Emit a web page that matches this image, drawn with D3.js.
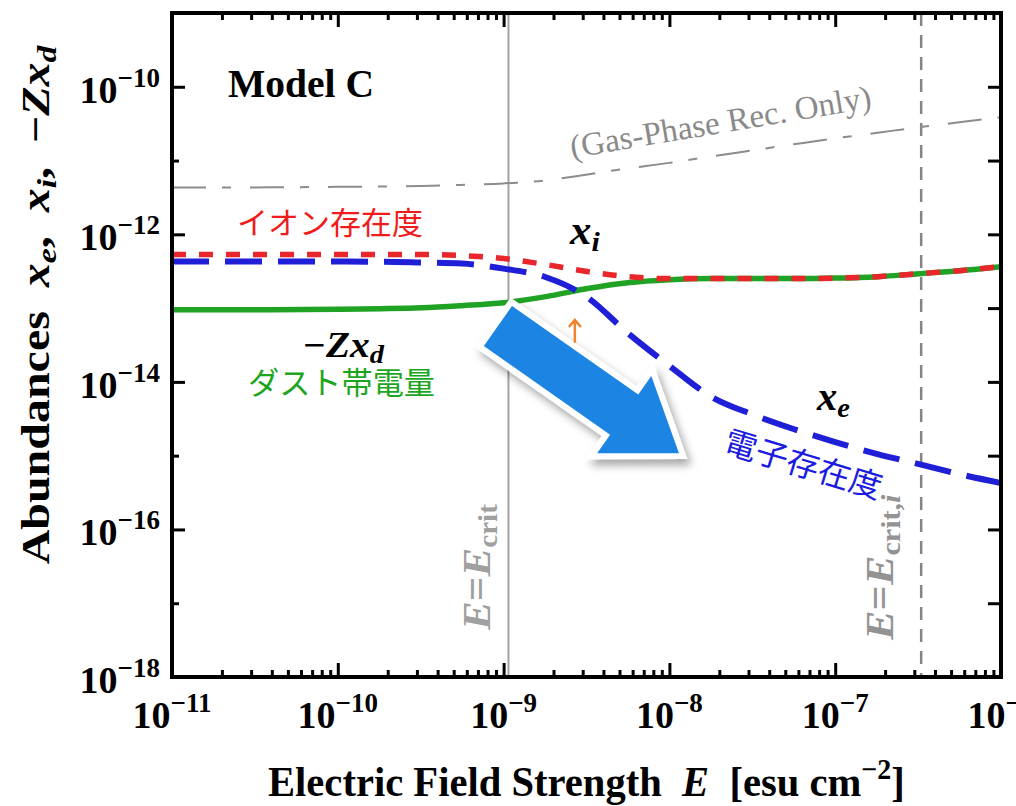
<!DOCTYPE html>
<html>
<head>
<meta charset="utf-8">
<script src="https://cdn.jsdelivr.net/npm/d3@7"></script>
<style>
  body { margin: 0; background: #fff; }
  svg { display: block; }
  text { white-space: pre; }
</style>
</head>
<body>
<div id="chart"></div>
<script>
// electric field strength (esu cm^-2), shared x values
const fieldE = [1.0e-11, 3.2e-11, 1.0e-10, 1.8e-10, 3.2e-10, 5.6e-10, 1.0e-9, 1.8e-9, 3.2e-9, 5.6e-9,
                1.0e-8, 1.8e-8, 3.2e-8, 5.6e-8, 1.0e-7, 1.8e-7, 3.2e-7, 5.6e-7, 1.0e-6];
// electron abundance x_e
const xe = [4.27e-13, 4.27e-13, 4.27e-13, 4.25e-13, 4.14e-13, 4.01e-13, 3.43e-13, 2.62e-13, 1.40e-13, 4.60e-14,
            1.65e-14, 6.25e-15, 3.60e-15, 2.30e-15, 1.53e-15, 1.05e-15, 7.69e-16, 5.62e-16, 4.25e-16];
// ion abundance x_i
const xi = [5.32e-13, 5.32e-13, 5.32e-13, 5.32e-13, 5.32e-13, 5.15e-13, 4.69e-13, 3.89e-13, 3.13e-13, 2.67e-13,
            2.51e-13, 2.51e-13, 2.51e-13, 2.51e-13, 2.55e-13, 2.67e-13, 2.93e-13, 3.22e-13, 3.65e-13];
// dust charge -Z x_d
const zxd = [9.50e-14, 9.50e-14, 9.66e-14, 9.82e-14, 1.01e-13, 1.08e-13, 1.18e-13, 1.43e-13, 1.84e-13, 2.21e-13,
             2.43e-13, 2.51e-13, 2.51e-13, 2.51e-13, 2.55e-13, 2.67e-13, 2.93e-13, 3.22e-13, 3.65e-13];
// gas-phase recombination only
const gasOnly = [4.33e-12, 4.33e-12, 4.40e-12, 4.45e-12, 4.53e-12, 4.68e-12, 4.90e-12, 5.38e-12, 6.49e-12, 7.83e-12,
                 9.30e-12, 1.14e-11, 1.38e-11, 1.66e-11, 2.00e-11, 2.38e-11, 2.83e-11, 3.30e-11, 3.87e-11];

const xDecades = [1e-11, 1e-10, 1e-9, 1e-8, 1e-7, 1e-6];
const yDecades = [1e-18, 1e-17, 1e-16, 1e-15, 1e-14, 1e-13, 1e-12, 1e-11, 1e-10, 1e-9];
const yLabelled = [1e-18, 1e-16, 1e-14, 1e-12, 1e-10];
const eCrit = 1.07e-9, eCritI = 3.3e-7;
// big arrow (tail centre -> tip) and small orange arrow, in data units
const bigArrow = [[8.93e-10, 6.04e-14], [1.21e-8, 9.9e-16]];
const smallArrow = [[2.69e-9, 3.4e-14], [2.69e-9, 6.9e-14]];

const W = 1016, H = 806;
const margin = { top: 13, right: 15, bottom: 129, left: 172 },
    width = W - margin.left - margin.right,
    height = H - margin.top - margin.bottom;

const serif = "'Liberation Serif', 'Times New Roman', serif";
const cjk = "'Noto Sans CJK JP', 'Noto Sans CJK SC', sans-serif";

const svg = d3.select("#chart").append("svg")
    .attr("width", W).attr("height", H);

const defs = svg.append("defs");
defs.append("clipPath").attr("id", "plotclip")
    .append("rect").attr("width", width).attr("height", height);
const sh = defs.append("filter").attr("id", "shadow")
    .attr("x", "-20%").attr("y", "-20%").attr("width", "150%").attr("height", "150%");
sh.append("feDropShadow").attr("dx", 4).attr("dy", 6).attr("stdDeviation", 4)
    .attr("flood-color", "#000").attr("flood-opacity", 0.35);

const g = svg.append("g").attr("transform", `translate(${margin.left},${margin.top})`);

const x = d3.scaleLog().domain([1e-11, 1e-6]).range([0, width]);
const y = d3.scaleLog().domain([1e-18, 1e-9]).range([height, 0]);

// minor x ticks 2..9 in each decade
const xMinor = [];
xDecades.slice(0, -1).forEach(d => { for (let k = 2; k <= 9; k++) xMinor.push(d * k); });

function tickAxis(axis, vals, size, transform) {
  const a = g.append("g").attr("transform", transform || null)
      .call(axis.tickValues(vals).tickSize(size).tickFormat(""));
  a.select(".domain").remove();
  a.selectAll("line").attr("stroke", "#000").attr("stroke-width", 3);
}
tickAxis(d3.axisBottom(x), xMinor, -7, `translate(0,${height})`);
tickAxis(d3.axisBottom(x), xDecades, -14, `translate(0,${height})`);
tickAxis(d3.axisTop(x), xMinor, -7);
tickAxis(d3.axisTop(x), xDecades, -14);
tickAxis(d3.axisLeft(y), yDecades.filter(d => !yLabelled.includes(d)), -7);
tickAxis(d3.axisLeft(y), yLabelled, -13);
tickAxis(d3.axisRight(y), yDecades, -13, `translate(${width},0)`);

// tick labels 10^n
function powLabel(sel) {
  sel.text("10").append("tspan").attr("dy", -16).attr("font-size", 27)
    .text(d => "\u2212" + Math.abs(Math.round(Math.log10(d))));
}
g.append("g").selectAll("text").data(xDecades).join("text")
    .attr("x", d => x(d)).attr("y", height + 51)
    .attr("text-anchor", "middle").attr("font-family", serif).attr("font-weight", "bold")
    .attr("font-size", 38).call(powLabel);
g.append("g").selectAll("text").data(yLabelled).join("text")
    .attr("x", -12).attr("y", d => y(d) + 16)
    .attr("text-anchor", "end").attr("font-family", serif).attr("font-weight", "bold")
    .attr("font-size", 38).call(powLabel);

// critical field lines
g.append("line").attr("x1", x(eCrit)).attr("x2", x(eCrit)).attr("y1", 0).attr("y2", height)
    .attr("stroke", "#a3a3a3").attr("stroke-width", 2);
g.append("line").attr("x1", x(eCritI)).attr("x2", x(eCritI)).attr("y1", 0).attr("y2", height)
    .attr("stroke", "#858585").attr("stroke-width", 2.5).attr("stroke-dasharray", "13,9");

// curves
const plot = g.append("g").attr("clip-path", "url(#plotclip)");
function curve(vals, color, w, dash) {
  const line = d3.line().x((d, i) => x(fieldE[i])).y(d => y(d)).curve(d3.curveMonotoneX);
  plot.append("path").datum(vals).attr("d", line)
      .attr("fill", "none").attr("stroke", color).attr("stroke-width", w)
      .attr("stroke-dasharray", dash || null);
}
curve(gasOnly, "#8c8c8c", 2, "34,16,9,19");
curve(zxd, "#20a324", 5.5);
curve(xi, "#e8262b", 5.5, "14,13");
curve(xe, "#1f1fd8", 6, "37,16");

// frame
g.append("rect").attr("width", width).attr("height", height)
    .attr("fill", "none").attr("stroke", "#000").attr("stroke-width", 4);

// text helper: content built by fn, squeezed to target width
function label(px, py, angle, target, anchor, fn) {
  const holder = g.append("g").attr("transform", `translate(${px},${py}) rotate(${angle})`);
  const t = holder.append("text").attr("text-anchor", anchor);
  fn(t);
  const w = t.node().getBBox().width;
  if (target) t.attr("transform", `scale(${target / w},1)`);
  return t;
}

const L = v => v - margin.left, T = v => v - margin.top;

label(L(228), T(97), 0, 146, "start", t => t.attr("font-family", serif).attr("font-weight", "bold")
    .attr("font-size", 40).text("Model C"));

label(L(572), T(158), -9.5, 305, "start", t => t.attr("font-family", serif).attr("fill", "#8a8a8a")
    .attr("font-size", 33).text("(Gas-Phase Rec. Only)"));

label(L(570), T(244), 0, 31, "start", t => {
  t.attr("font-family", serif).attr("font-weight", "bold").attr("font-size", 40);
  t.append("tspan").attr("font-style", "italic").text("x");
  t.append("tspan").attr("font-style", "italic").attr("font-size", 28).attr("dy", 7).text("i");
});
label(L(817), T(410), 0, 34, "start", t => {
  t.attr("font-family", serif).attr("font-weight", "bold").attr("font-size", 40);
  t.append("tspan").attr("font-style", "italic").text("x");
  t.append("tspan").attr("font-style", "italic").attr("font-size", 28).attr("dy", 7).text("e");
});
label(L(302), T(357), 0, 83, "start", t => {
  t.attr("font-family", serif).attr("font-weight", "bold").attr("font-size", 36);
  t.append("tspan").attr("font-style", "italic").text("\u2212Zx");
  t.append("tspan").attr("font-style", "italic").attr("font-size", 26).attr("dy", 6).text("d");
});

label(L(490), T(630), -90, 127, "start", t => {
  t.attr("font-family", serif).attr("font-weight", "bold").attr("font-size", 40).attr("fill", "#a0a0a0");
  t.append("tspan").attr("font-style", "italic").text("E");
  t.append("tspan").text("=");
  t.append("tspan").attr("font-style", "italic").text("E");
  t.append("tspan").attr("font-size", 27).attr("dy", 7).text("crit");
});
label(L(893), T(640), -90, 147, "start", t => {
  t.attr("font-family", serif).attr("font-weight", "bold").attr("font-size", 40).attr("fill", "#939393");
  t.append("tspan").attr("font-style", "italic").text("E");
  t.append("tspan").text("=");
  t.append("tspan").attr("font-style", "italic").text("E");
  t.append("tspan").attr("font-size", 27).attr("dy", 7).text("crit,");
  t.append("tspan").attr("font-size", 27).attr("font-style", "italic").text("i");
});

// axis titles
label(L(268), T(796), 0, 637, "start", t => {
  t.attr("font-family", serif).attr("font-weight", "bold").attr("font-size", 42);
  t.append("tspan").text("Electric Field Strength\u00a0\u00a0");
  t.append("tspan").attr("font-style", "italic").text("E");
  t.append("tspan").text("\u00a0\u00a0[esu cm");
  t.append("tspan").attr("font-size", 29).attr("dy", -17).text("\u22122");
  t.append("tspan").attr("dy", 17).text("]");
});
label(L(49), T(305), -90, 520, "middle", t => {
  t.attr("font-family", serif).attr("font-weight", "bold").attr("font-size", 40);
  t.append("tspan").text("Abundances\u00a0\u00a0");
  t.append("tspan").attr("font-style", "italic").text("x");
  t.append("tspan").attr("font-style", "italic").attr("font-size", 28).attr("dy", 7).text("e");
  t.append("tspan").attr("dy", -7).text(",\u00a0\u00a0");
  t.append("tspan").attr("font-style", "italic").text("x");
  t.append("tspan").attr("font-style", "italic").attr("font-size", 28).attr("dy", 7).text("i");
  t.append("tspan").attr("dy", -7).text(",\u00a0\u00a0\u2212");
  t.append("tspan").attr("font-style", "italic").text("Zx");
  t.append("tspan").attr("font-style", "italic").attr("font-size", 28).attr("dy", 7).text("d");
});

// Japanese annotations
label(L(237), T(220), 0, 186, "start", t => t.attr("font-family", cjk).attr("font-size", 31)
    .attr("dominant-baseline", "central").attr("fill", "#f01c1c").text("イオン存在度"));
label(L(248), T(381), 0, 187, "start", t => t.attr("font-family", cjk).attr("font-size", 31)
    .attr("dominant-baseline", "central").attr("fill", "#1ea51e").text("ダスト帯電量"));
label(L(804), T(462), 17, 163, "middle", t => t.attr("font-family", cjk).attr("font-size", 32)
    .attr("dominant-baseline", "central").attr("fill", "#1c1ce0").text("電子存在度"));

// big blue arrow
{
  const [t0, t1] = bigArrow.map(p => [x(p[0]), y(p[1])]);
  const dx = t1[0] - t0[0], dy = t1[1] - t0[1], len = Math.hypot(dx, dy);
  const u = [dx / len, dy / len], n = [-u[1], u[0]];
  const hs = 27.5, hh = 53, base = len - 75;
  const pt = (a, b) => [t0[0] + u[0] * a + n[0] * b, t0[1] + u[1] * a + n[1] * b];
  const pts = [pt(0, -hs), pt(base, -hs), pt(base, -hh), pt(len, 0), pt(base, hh), pt(base, hs), pt(0, hs)];
  g.append("path").attr("d", "M" + pts.map(p => p.join(",")).join("L") + "Z")
      .attr("fill", "#1c84e3").attr("stroke", "#fff").attr("stroke-width", 6)
      .attr("stroke-linejoin", "miter").attr("filter", "url(#shadow)");
}
// small orange arrow
{
  const [a, b] = smallArrow.map(p => [x(p[0]), y(p[1])]);
  g.append("path").attr("d", `M${a[0]},${a[1]}L${b[0]},${b[1]}M${b[0] - 6},${b[1] + 7}L${b[0]},${b[1]}L${b[0] + 6},${b[1] + 7}`)
      .attr("fill", "none").attr("stroke", "#f0842a").attr("stroke-width", 2.5);
}
</script>
</body>
</html>
